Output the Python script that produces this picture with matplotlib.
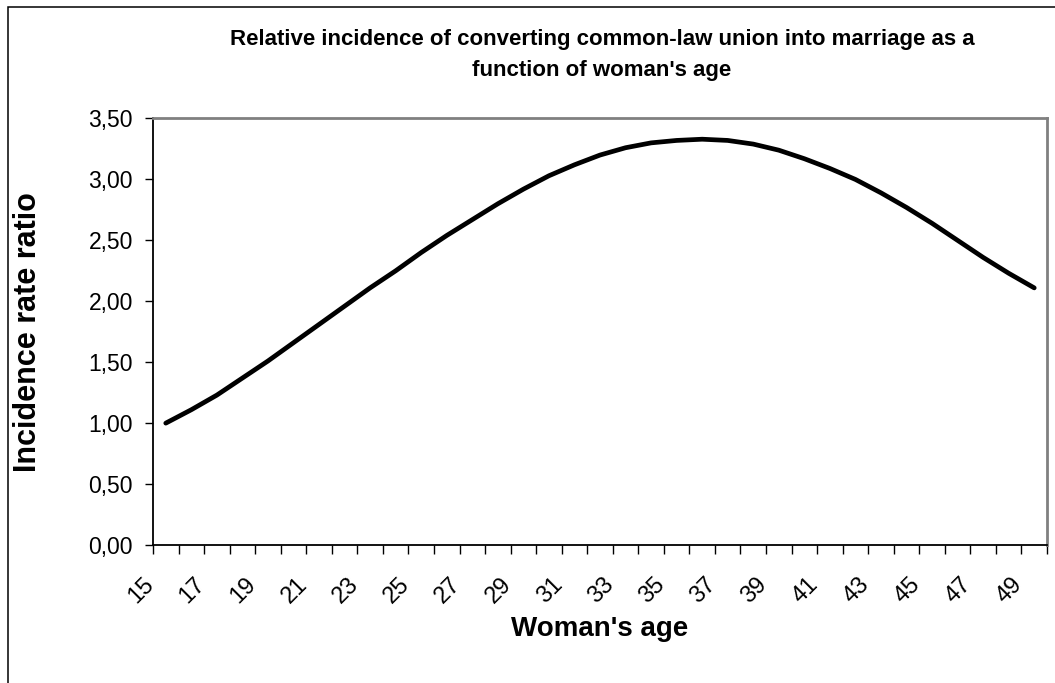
import matplotlib
matplotlib.use("Agg")
import matplotlib.pyplot as plt
from matplotlib.ticker import FixedLocator, FuncFormatter
from matplotlib.patches import Rectangle
from matplotlib.transforms import ScaledTranslation

plt.rcParams['font.family'] = ['Liberation Sans', 'DejaVu Sans']

# woman's age and the incidence rate ratio
ages = list(range(15, 50))
irr = [1.00, 1.11, 1.23, 1.37, 1.51, 1.66, 1.81, 1.96, 2.11, 2.25,
       2.40, 2.54, 2.67, 2.80, 2.92, 3.03, 3.12, 3.20, 3.26, 3.30,
       3.32, 3.33, 3.32, 3.29, 3.24, 3.17, 3.09, 3.00, 2.89, 2.77,
       2.64, 2.50, 2.36, 2.23, 2.11]
age_labels = [str(a) for a in ages[::2]]
y_ticks = [0, 0.5, 1.0, 1.5, 2.0, 2.5, 3.0, 3.5]

W, H = 1055, 683
fig = plt.figure(figsize=(W / 100, H / 100), dpi=100)
fig.patch.set_facecolor('white')

# outer chart frame (only top and left edge are inside the picture)
fig.patches.append(Rectangle((8 / W, -0.1), 1.2, (H - 7) / H + 0.1,
                             transform=fig.transFigure, fill=False,
                             edgecolor='black', linewidth=1.1))

ax = fig.add_axes([153 / W, (H - 545) / H, (1047 - 153) / W, (545 - 118.5) / H])

pos = list(range(len(ages)))
ax.plot(pos, irr, color='black', linewidth=3.4, solid_capstyle='round',
        solid_joinstyle='round')

ax.set_xlim(-0.5, len(ages) - 0.5)
ax.set_ylim(0, 3.5)

# category axis: tick marks between categories, labels at every second one
ax.xaxis.set_major_locator(FixedLocator([p - 0.5 for p in range(len(ages) + 1)]))
ax.xaxis.set_major_formatter(FuncFormatter(lambda v, p: ''))
ax.xaxis.set_minor_locator(FixedLocator(pos[::2]))
ax.set_xticklabels(age_labels, minor=True, rotation=45, ha='right',
                   va='center', rotation_mode='anchor', fontsize=17)
ax.tick_params(axis='x', which='major', direction='out', length=6.5,
               width=1, color='black')
ax.tick_params(axis='x', which='minor', length=0, pad=26)

ax.set_yticks(y_ticks)
ax.yaxis.set_major_formatter(FuncFormatter(lambda v, p: f"{v:.2f}".replace('.', ',')))
ax.tick_params(axis='y', direction='out', length=6, width=1, color='black',
               labelsize=16.5, pad=8.5)

for side in ('left', 'bottom'):
    ax.spines[side].set_color('black')
    ax.spines[side].set_linewidth(1.3)
for side in ('top', 'right'):
    ax.spines[side].set_color('#808080')
    ax.spines[side].set_linewidth(2)

ax.set_xlabel("Woman's age", fontsize=20, fontweight='bold', labelpad=6)
fig.text(28 / W, 1 - 332 / H, "Incidence rate ratio", rotation=90,
         fontsize=22, fontweight='bold', ha='center', va='center')

fig.text(602 / W, 1 - 55 / H,
         "Relative incidence of converting common-law union into marriage as a\n"
         "function of woman's age",
         fontsize=16, fontweight='bold', ha='center', va='center',
         linespacing=1.65)

# shift the slanted age labels left, as in the original
shift = ScaledTranslation(-15 / 100, 0, fig.dpi_scale_trans)
for lab in ax.get_xticklabels(minor=True):
    lab.set_transform(lab.get_transform() + shift)

fig.savefig('out.png', dpi=100)
